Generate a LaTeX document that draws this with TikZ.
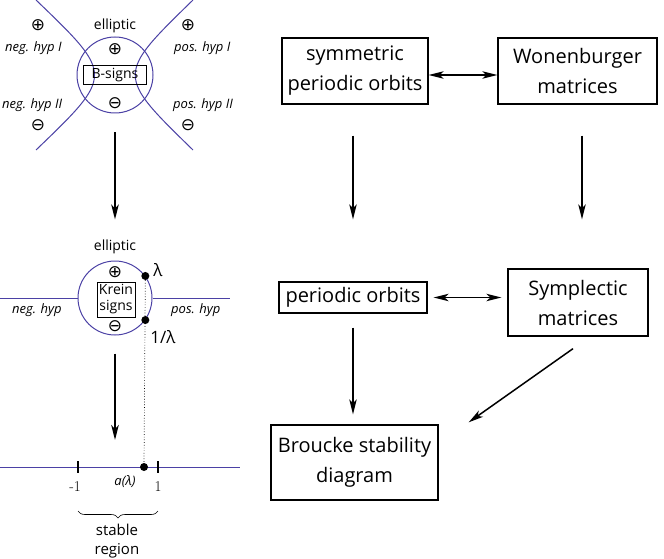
\documentclass[tikz,border=0pt]{standalone}
\usepackage{fontspec}
\setsansfont{Open Sans}
\newfontfamily\symfont{DejaVu Sans}
\usetikzlibrary{arrows.meta,decorations.pathreplacing}
\definecolor{hypblue}{RGB}{75,65,165}
\tikzset{
  box/.style={draw, line width=1.3pt, align=center, inner sep=2pt, font=\sffamily\fontsize{20}{30}\selectfont},
  arr/.style={-{Stealth[length=15pt,width=7.5pt,inset=4pt]}, line width=1.5pt},
  dblarr/.style={{Stealth[length=15pt,width=7.5pt,inset=4pt]}-{Stealth[length=15pt,width=7.5pt,inset=4pt]}, line width=1.5pt},
  hyp/.style={draw=hypblue, line width=1pt},
  lab/.style={font=\sffamily\fontsize{14}{16}\selectfont, inner sep=0pt},
  hyplab/.style={lab, anchor=west, font=\sffamily\itshape\fontsize{13}{15}\selectfont},
  signmark/.style={inner sep=0pt, font=\symfont\fontsize{17}{17}\selectfont},
  blob/.style={circle, fill, inner sep=0pt, minimum size=8pt},
}
\begin{document}
\begin{tikzpicture}[x=1pt, y=-1pt]
\useasboundingbox (0,0) rectangle (664,559);

% right column
\node[box, minimum width=146pt, minimum height=66pt] (SymOrbits) at (355,71) {symmetric\\periodic orbits};
\node[box, minimum width=159pt, minimum height=66pt] (Wonenburger) at (577.5,71) {Wonenburger\\matrices};
\node[box, minimum width=148pt, minimum height=31pt] (Orbits) at (353,297.5) {periodic orbits};
\node[box, minimum width=140pt, minimum height=67pt] (Symplectic) at (578,302.5) {Symplectic\\matrices};
\node[box, minimum width=167pt, minimum height=75pt] (Broucke) at (354.5,462.5) {Broucke stability\\diagram};

\draw[dblarr] ([yshift=-4pt]SymOrbits.east) -- ([yshift=-4pt]Wonenburger.west);
\draw[arr, shorten <=31pt, shorten >=62pt] ([xshift=-2pt]SymOrbits.south) -- (Orbits.north);
\draw[arr, shorten <=31pt, shorten >=49pt] ([xshift=4.5pt]Wonenburger.south) -- ([xshift=4pt]Symplectic.north);
\draw[dblarr, shorten <=6pt, shorten >=6pt] (Orbits.east) -- (Orbits.east -| Symplectic.west);
\draw[arr, shorten <=14pt, shorten >=10pt] (Orbits.south) -- (Orbits.south |- Broucke.north);
\draw[arr] ([xshift=-5pt,yshift=-12pt]Symplectic.south) -- ([xshift=30pt,yshift=2pt]Broucke.north east);

% B-signs
\node[circle, hyp, minimum size=76pt, inner sep=0pt] (EllTop) at (115,75) {};
\draw[hyp] (36,0) .. controls (114,75) .. (36,150);
\draw[hyp] (193,0) .. controls (116,75) .. (193,150);
\node[lab] (EllTopLab) at (115,26) {elliptic};
\node[signmark] (TopPlus) at (115,49) {⊕};
\node[draw, line width=0.9pt, lab, minimum width=63pt, minimum height=19pt] (BSigns) at (115,75) {B-signs};
\node[signmark] (TopMinus) at (115,103) {⊖};
\node[signmark] (NegPlus) at (38,25) {⊕};
\node[hyplab] (NegOne) at (5,48) {neg. hyp I};
\node[hyplab] (NegTwo) at (2,105) {neg. hyp II};
\node[signmark] (NegMinus) at (38,125) {⊖};
\node[signmark] (PosPlus) at (188,25) {⊕};
\node[hyplab] (PosOne) at (174,48) {pos. hyp I};
\node[hyplab] (PosTwo) at (173,105) {pos. hyp II};
\node[signmark] (PosMinus) at (188,125) {⊖};

% Krein signs
\node[circle, hyp, minimum size=74pt, inner sep=0pt] (EllMid) at (115,298) {};
\draw[arr, line width=1.8pt, shorten <=19pt, shorten >=41pt] (EllTop.south) -- (EllMid.north);
\coordinate (HypL) at (0,298);
\coordinate (HypR) at (230,298);
\draw[hyp] (HypL) -- (EllMid.west);
\draw[hyp] (EllMid.east) -- (HypR);
\node[lab] (EllMidLab) at (115,247) {elliptic};
\node[signmark] (MidPlus) at (115,272) {⊕};
\node[draw, line width=0.9pt, lab, align=center, inner sep=1.5pt, minimum width=38pt, minimum height=35pt] (Krein) at (116,299.5) {Krein\\signs};
\node[signmark] (MidMinus) at (115,326) {⊖};
\node[hyplab] (NegHyp) at (12,310) {neg. hyp};
\node[hyplab] (PosHyp) at (171,310) {pos. hyp};
\node[blob] (Lam) at (EllMid.36) {};
\node[blob] (LamInv) at (EllMid.-36) {};
\node[lab, font=\sffamily\fontsize{17}{17}\selectfont] (LamLab) at (158,270) {λ};
\node[lab, font=\sffamily\fontsize{17}{17}\selectfont] (LamInvLab) at (163,337) {1/λ};

% axis
\coordinate (AxisL) at (0,467);
\coordinate (AxisR) at (240,467);
\coordinate (AxisMid) at (115,467);
\draw[hyp] (AxisL) -- (AxisR);
\draw[line width=1.8pt] (78,461) -- (78,473);
\draw[line width=1.8pt] (158,461) -- (158,473);
\node[blob] (ADot) at (144,467) {};
\draw[arr, line width=1.8pt, shorten <=18pt, shorten >=27pt] (EllMid.south) -- (AxisMid);
\draw[dotted, line width=0.7pt] (Lam) -- (ADot);
\node[font=\rmfamily\fontsize{15}{15}\selectfont] (MinusOne) at (75,487) {-1};
\node[font=\rmfamily\fontsize{15}{15}\selectfont] (PlusOne) at (158,487) {1};
\node[lab, font=\sffamily\itshape\fontsize{13}{15}\selectfont] (ALam) at (125,482) {a(λ)};
\coordinate (BraceL) at (78,511);
\coordinate (BraceR) at (158,511);
\draw[decorate, decoration={brace, mirror, amplitude=7pt}, line width=0.6pt] (BraceL) -- (BraceR);
\node[lab, align=center, font=\sffamily\fontsize{15}{19}\selectfont] (Stable) at (117,541) {stable\\region};
\end{tikzpicture}
\end{document}
